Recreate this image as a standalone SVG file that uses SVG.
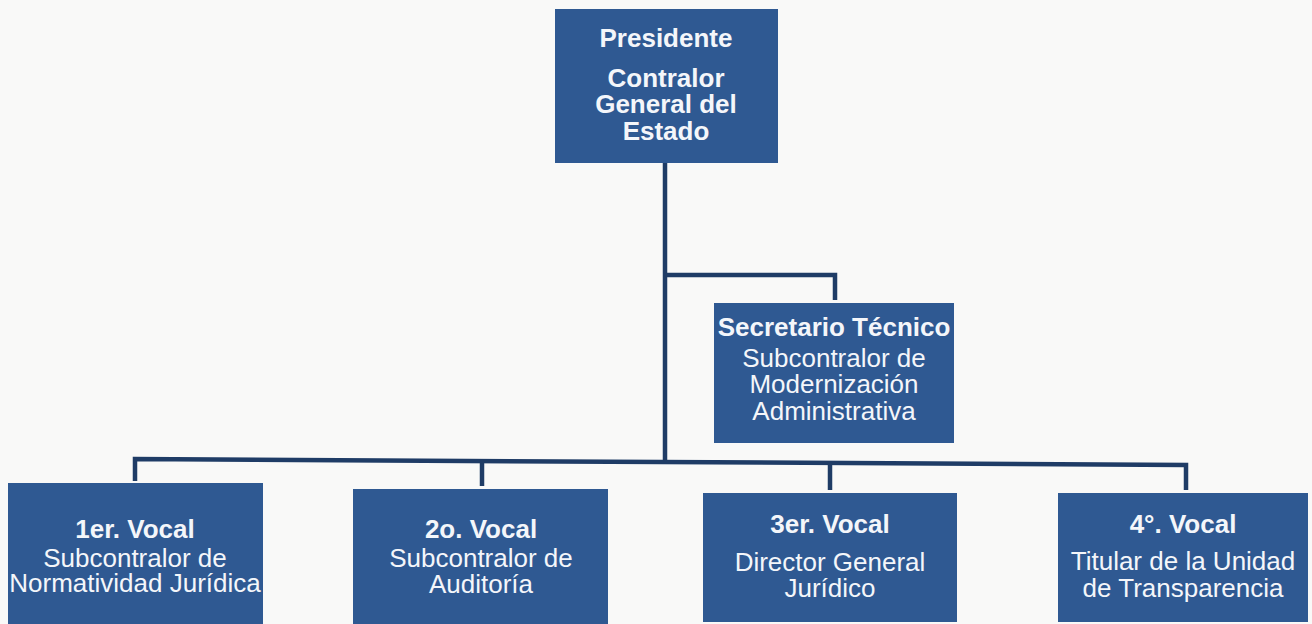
<svg xmlns="http://www.w3.org/2000/svg" width="1312" height="624" viewBox="0 0 1312 624">
<style>
.box{fill:#2f5992;}
.t{font-family:"Liberation Sans",Arial,sans-serif;font-size:26px;fill:#f4f6fa;text-anchor:middle;}
.b{font-weight:bold;}
.c{fill:none;stroke:#1f3c66;stroke-width:4.5;stroke-linejoin:miter;}
</style>
<rect width="1312" height="624" fill="#f9f9f8"/>
<g id="connectors">
<path class="c" d="M665,163 V463"/>
<path class="c" d="M665,275 H835 V300"/>
<path class="c" d="M135,481 V459 L1186,465 V490"/>
<path class="c" d="M482,486 V461"/>
<path class="c" d="M830,490 V463"/>
</g>
<g id="presidente">
<rect class="box" x="555" y="9" width="223" height="154"/>
<text class="t b" x="666" y="47">Presidente</text>
<text class="t b" x="666" y="87">Contralor</text>
<text class="t b" x="666" y="113">General del</text>
<text class="t b" x="666" y="140">Estado</text>
</g>
<g id="secretario">
<rect class="box" x="714" y="303" width="240" height="140"/>
<text class="t b" x="834" y="336">Secretario Técnico</text>
<text class="t" x="834" y="367">Subcontralor de</text>
<text class="t" x="834" y="393">Modernización</text>
<text class="t" x="834" y="420">Administrativa</text>
</g>
<g id="vocal1">
<rect class="box" x="8" y="483" width="255" height="150"/>
<text class="t b" x="135" y="538">1er. Vocal</text>
<text class="t" x="135" y="567">Subcontralor de</text>
<text class="t" x="135" y="592">Normatividad Jurídica</text>
</g>
<g id="vocal2">
<rect class="box" x="353" y="489" width="255" height="150"/>
<text class="t b" x="481" y="538">2o. Vocal</text>
<text class="t" x="481" y="567">Subcontralor de</text>
<text class="t" x="481" y="593">Auditoría</text>
</g>
<g id="vocal3">
<rect class="box" x="703" y="493" width="254" height="129"/>
<text class="t b" x="830" y="533">3er. Vocal</text>
<text class="t" x="830" y="571">Director General</text>
<text class="t" x="830" y="597">Jurídico</text>
</g>
<g id="vocal4">
<rect class="box" x="1058" y="493" width="250" height="129"/>
<text class="t b" x="1183" y="533">4°. Vocal</text>
<text class="t" x="1183" y="570">Titular de la Unidad</text>
<text class="t" x="1183" y="597">de Transparencia</text>
</g>
</svg>
